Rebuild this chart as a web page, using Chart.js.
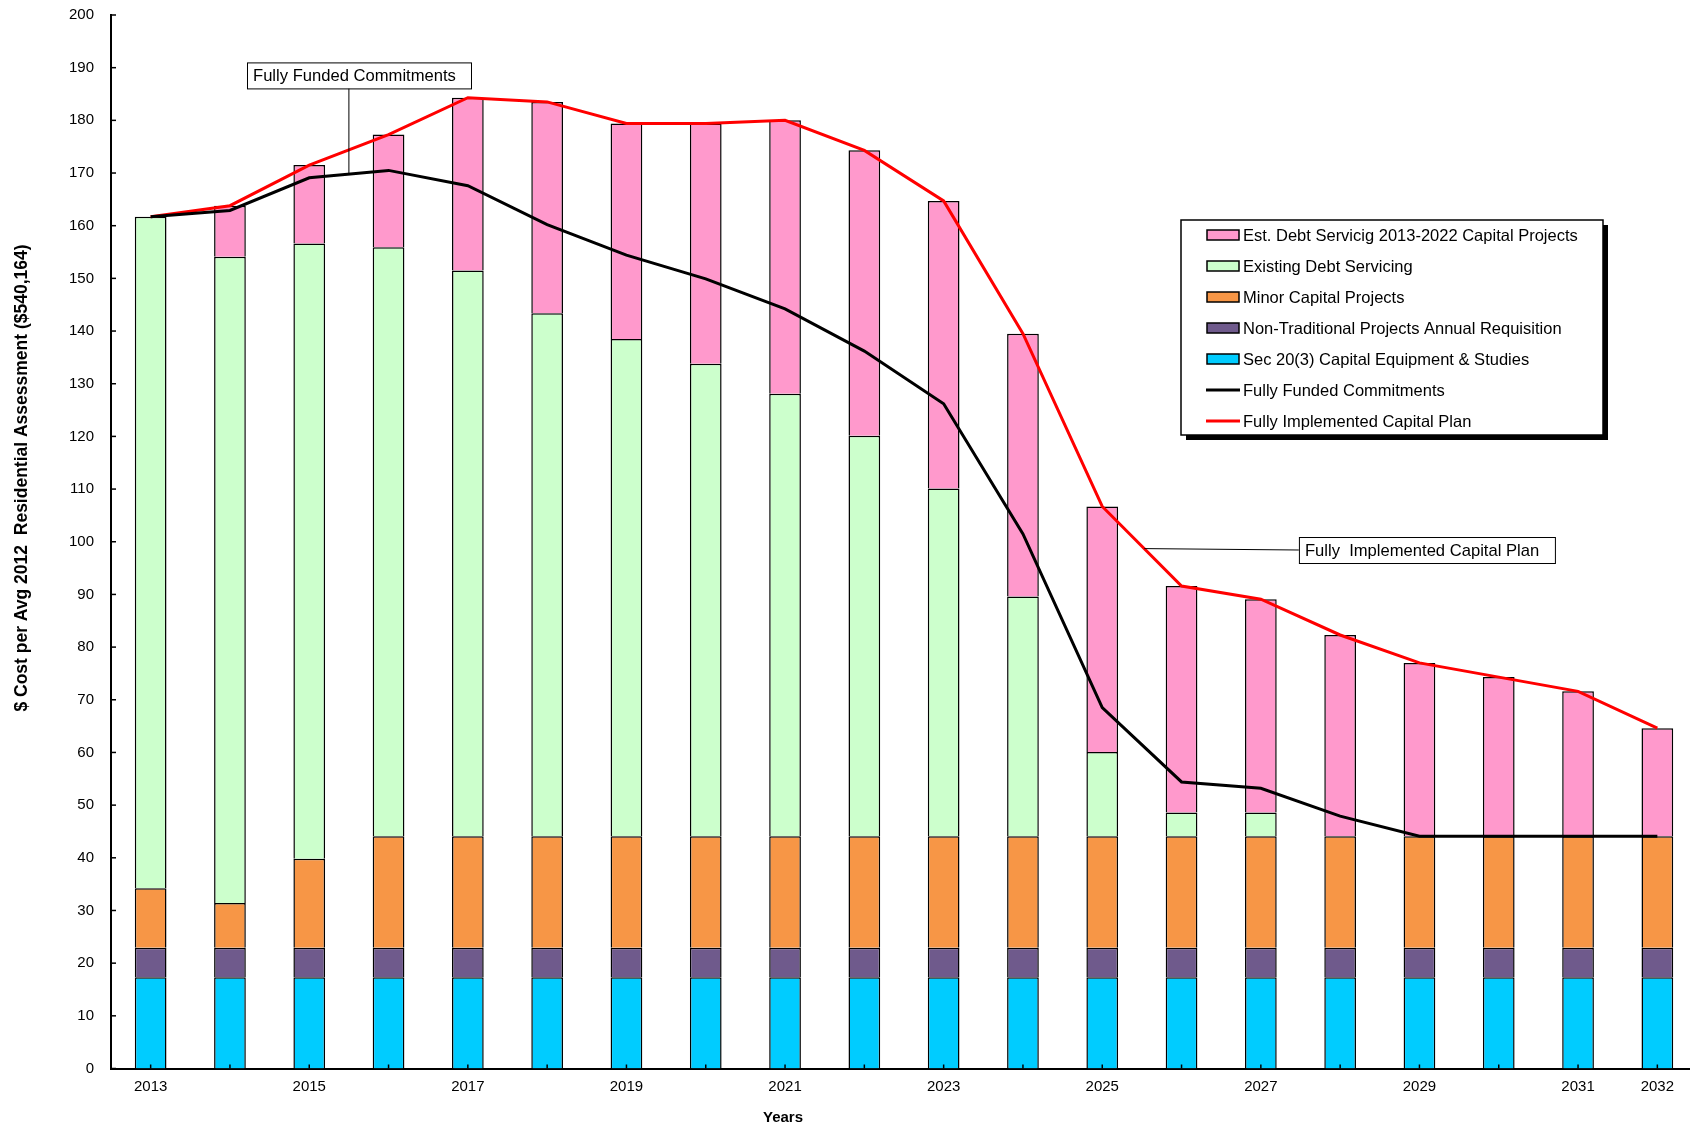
<!DOCTYPE html>
<html>
<head>
<meta charset="utf-8">
<script src="https://cdn.jsdelivr.net/npm/chart.js@4.4.1/dist/chart.umd.min.js"></script>
<style>
  html, body { margin: 0; padding: 0; overflow: hidden; background: #fff; }
  #wrap { width: 1700px; height: 1129px; }
</style>
</head>
<body>
<div id="wrap"><canvas id="chart" width="1700" height="1129" style="width:1700px;height:1129px"></canvas></div>
<script>
const years = ['2013','2014','2015','2016','2017','2018','2019','2020','2021','2022',
               '2023','2024','2025','2026','2027','2028','2029','2030','2031','2032'];
const xTickLabels = ['2013','','2015','','2017','','2019','','2021','',
                     '2023','','2025','','2027','','2029','','2031','2032'];

// stacked bars, bottom to top
const sec203 = [17.3,17.3,17.3,17.3,17.3,17.3,17.3,17.3,17.3,17.3,17.3,17.3,17.3,17.3,17.3,17.3,17.3,17.3,17.3,17.3];
const nonTraditional = [5.6,5.6,5.6,5.6,5.6,5.6,5.6,5.6,5.6,5.6,5.6,5.6,5.6,5.6,5.6,5.6,5.6,5.6,5.6,5.6];
const minorCapital = [11.3,8.5,16.9,21.2,21.2,21.2,21.2,21.2,21.2,21.2,21.2,21.2,21.2,21.2,21.2,21.2,21.2,21.2,21.2,21.2];
const existingDebt = [127.5,122.7,116.8,111.8,107.4,99.3,94.4,89.7,84.0,76.0,66.0,45.5,16.0,4.5,4.5,0,0,0,0,0];
const estDebt = [0,9.7,14.9,21.4,32.8,40.1,40.9,45.6,51.9,54.2,54.6,49.9,46.6,43.0,40.5,38.2,32.9,30.2,27.5,20.5];

// lines
const fullyFunded = [161.7,162.9,169.1,170.5,167.6,160.2,154.4,149.9,144.2,136.2,126.2,101.5,68.5,54.4,53.2,47.9,44.1,44.1,44.1,44.1];
const fullyImplemented = [161.7,163.8,171.5,177.3,184.3,183.5,179.4,179.4,180.0,174.3,164.7,139.5,106.7,91.6,89.1,82.3,77.0,74.3,71.6,64.6];

const FONT = '"Liberation Sans", Arial, sans-serif';

function bar(label, data, color) {
  return {
    type: 'bar', label, data, backgroundColor: color,
    borderColor: '#000', borderWidth: 1.5, stack: 'bars', order: 1,
    categoryPercentage: 1, barPercentage: 0.4
  };
}
function line(label, data, color, stack) {
  return {
    type: 'line', label, data, borderColor: color, backgroundColor: color,
    borderWidth: 3, pointRadius: 0, tension: 0, fill: false, stack, order: 0
  };
}

const datasets = [
  bar('Sec 20(3) Capital Equipment & Studies', sec203, '#00CCFF'),
  bar('Non-Traditional Projects Annual Requisition', nonTraditional, '#6F5A8C'),
  bar('Minor Capital Projects', minorCapital, '#F79646'),
  bar('Existing Debt Servicing', existingDebt, '#CCFFCC'),
  bar('Est. Debt Servicig 2013-2022 Capital Projects', estDebt, '#FF99CC'),
  line('Fully Funded Commitments', fullyFunded, '#000000', 'ff'),
  line('Fully Implemented Capital Plan', fullyImplemented, '#FF0000', 'fi')
];
const legendOrder = [4, 3, 2, 1, 0, 5, 6];

// callout labels: box given in category index / axis value units
const callouts = [
  { text: 'Fully Funded Commitments', boxX: 1.215, boxY: 191, w: 224,
    from: 'bottom', anchorX: 2.5, anchorY: 169.8 },
  { text: 'Fully  Implemented Capital Plan', boxX: 14.48, boxY: 100.9, w: 256,
    from: 'left', anchorX: 12.53, anchorY: 98.7 }
];

const decor = {
  id: 'decor',
  afterDraw(chart) {
    const ctx = chart.ctx;
    const x = chart.scales.x, y = chart.scales.y;
    const area = chart.chartArea;
    ctx.save();

    // inward tick marks
    ctx.strokeStyle = '#000';
    ctx.lineWidth = 1.5;
    for (let v = 0; v <= 200; v += 10) {
      const py = y.getPixelForValue(v);
      ctx.beginPath(); ctx.moveTo(area.left, py); ctx.lineTo(area.left + 5, py); ctx.stroke();
    }
    years.forEach((_, i) => {
      const px = x.getPixelForValue(i);
      ctx.beginPath(); ctx.moveTo(px, area.bottom); ctx.lineTo(px, area.bottom - 4); ctx.stroke();
    });

    // callouts
    ctx.font = '16.6px ' + FONT;
    ctx.textBaseline = 'middle';
    ctx.textAlign = 'left';
    callouts.forEach(c => {
      const bx = x.getPixelForValue(c.boxX);
      const by = y.getPixelForValue(c.boxY);
      const h = 26;
      const ax = x.getPixelForValue(c.anchorX);
      const ay = y.getPixelForValue(c.anchorY);
      ctx.lineWidth = 1;
      ctx.strokeStyle = '#000';
      ctx.beginPath();
      if (c.from === 'bottom') { ctx.moveTo(ax, by + h); ctx.lineTo(ax, ay); }
      else { ctx.moveTo(bx, by + h / 2); ctx.lineTo(ax, ay); }
      ctx.stroke();
      ctx.fillStyle = '#fff';
      ctx.fillRect(bx, by, c.w, h);
      ctx.strokeRect(bx + 0.5, by + 0.5, c.w, h);
      ctx.fillStyle = '#000';
      ctx.fillText(c.text, bx + 6, by + h / 2 + 1);
    });

    // legend box
    const lx = 1181, ly = 220, lw = 422, lh = 215;
    ctx.fillStyle = '#000';
    ctx.fillRect(lx + 5, ly + 5, lw, lh);
    ctx.fillStyle = '#fff';
    ctx.fillRect(lx, ly, lw, lh);
    ctx.lineWidth = 1.5;
    ctx.strokeRect(lx, ly, lw, lh);
    legendOrder.forEach((di, k) => {
      const ds = chart.data.datasets[di];
      const cy = 235 + k * 31;
      if (ds.type === 'bar') {
        ctx.fillStyle = ds.backgroundColor;
        ctx.fillRect(1207, cy - 5, 32, 10);
        ctx.lineWidth = 1.5;
        ctx.strokeStyle = '#000';
        ctx.strokeRect(1207, cy - 5, 32, 10);
      } else {
        ctx.strokeStyle = ds.borderColor;
        ctx.lineWidth = 3;
        ctx.beginPath(); ctx.moveTo(1206, cy); ctx.lineTo(1240, cy); ctx.stroke();
      }
      ctx.fillStyle = '#000';
      ctx.font = '16.5px ' + FONT;
      ctx.textAlign = 'left';
      ctx.textBaseline = 'middle';
      ctx.fillText(ds.label, 1243, cy + 1);
    });

    // axis titles
    ctx.fillStyle = '#000';
    ctx.font = 'bold 15px ' + FONT;
    ctx.textAlign = 'center';
    ctx.textBaseline = 'middle';
    ctx.fillText('Years', 783, 1118);
    ctx.font = 'bold 17.5px ' + FONT;
    ctx.translate(22, 478);
    ctx.rotate(-Math.PI / 2);
    ctx.fillText('$ Cost per Avg 2012  Residential Assessment ($540,164)', 0, 0);
    ctx.restore();
  }
};

new Chart(document.getElementById('chart'), {
  data: { labels: years, datasets },
  options: {
    responsive: false,
    animation: false,
    layout: { padding: { top: 15, right: 3, left: 0, bottom: 0 } },
    plugins: { legend: { display: false }, tooltip: { enabled: false } },
    scales: {
      x: {
        stacked: true,
        grid: { display: false, drawTicks: false },
        border: { color: '#000', width: 2 },
        ticks: {
          autoSkip: false, maxRotation: 0, padding: 9, color: '#000',
          font: { family: FONT, size: 15 },
          callback: (v, i) => xTickLabels[i]
        },
        afterFit: s => { s.height = 60.5; }
      },
      y: {
        stacked: true, min: 0, max: 200,
        grid: { display: false, drawTicks: false },
        border: { color: '#000', width: 2 },
        ticks: { stepSize: 10, padding: 17, color: '#000', font: { family: FONT, size: 15 } },
        afterFit: s => { s.width = 111; s.paddingTop = 0; s.paddingBottom = 0; }
      }
    }
  },
  plugins: [decor]
});
</script>
</body>
</html>
